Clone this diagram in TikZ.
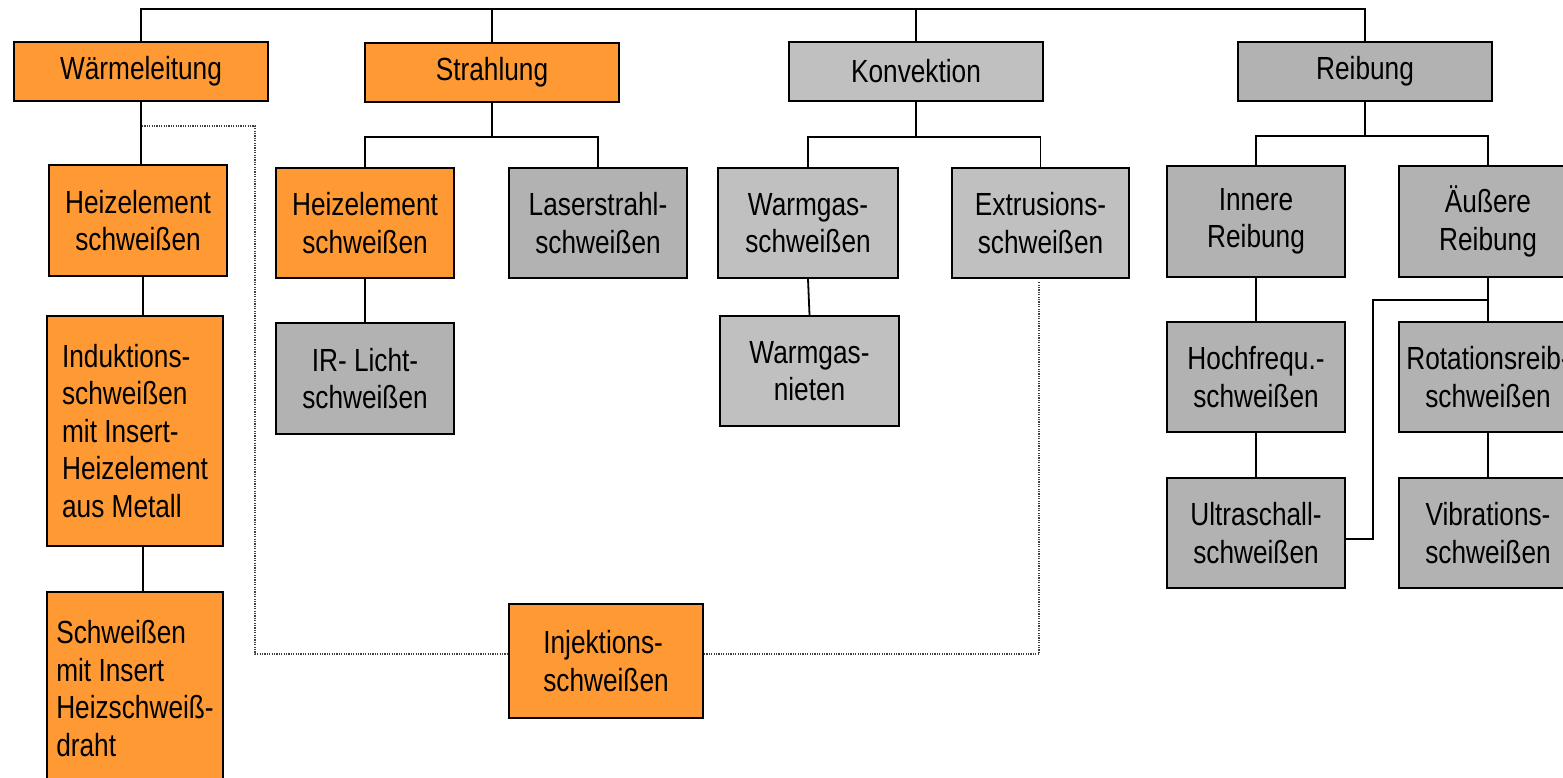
\documentclass[tikz,border=0pt]{standalone}
\usepackage{fontspec}
\setmainfont{Liberation Sans}[FakeStretch=0.82]
\definecolor{orng}{RGB}{255,153,51}
\definecolor{lgray}{RGB}{192,192,192}
\definecolor{dgray}{RGB}{178,178,178}
\tikzset{
  box/.style={draw=black, line width=2pt, inner sep=0pt, align=center,
    font=\fontsize{32}{37.5}\selectfont, text=black},
  orbox/.style={box, fill=orng},
  lgbox/.style={box, fill=lgray},
  dgbox/.style={box, fill=dgray},
  topbox/.style={minimum width=254pt, minimum height=59pt},
  midbox/.style={minimum width=178pt, minimum height=110pt},
  conn/.style={draw=black, line width=1.8pt},
  dotline/.style={draw=black!75, line width=1.2pt, dash pattern=on 1.2pt off 1.2pt}
}
\begin{document}
\begin{tikzpicture}[x=1pt, y=-1pt]
\useasboundingbox (0,0) rectangle (1563,778);
% top level
\node[orbox, topbox] (W) at (141,71.5) {Wärmeleitung};
\node[orbox, topbox] (S) at (492,72.5) {Strahlung};
\node[lgbox, topbox] (K) at (916,71.5) {Konvektion};
\node[dgbox, topbox] (R) at (1365,71.5) {Reibung};
% Wärmeleitung column
\node[orbox, midbox] (H1) at (138,220.5) {Heizelement\\schweißen};
\node[orbox, minimum width=176pt, minimum height=230pt, align=left] (I) at (135,431)
  {Induktions-\\schweißen\\mit Insert-\\Heizelement\\aus Metall};
\node[orbox, minimum width=176pt, minimum height=193pt, align=left] (SW) at (135,688.5)
  {Schweißen\\mit Insert\\Heizschweiß-\\draht};
% Strahlung
\node[orbox, midbox] (H2) at (365,223) {Heizelement\\schweißen};
\node[dgbox, midbox] (L) at (598,223) {Laserstrahl-\\schweißen};
\node[dgbox, midbox, minimum height=111pt] (IR) at (365,378.5) {IR- Licht-\\schweißen};
% Konvektion
\node[lgbox, midbox, minimum width=180pt] (WG) at (808,223) {Warmgas-\\schweißen};
\node[lgbox, midbox, minimum width=177pt] (EX) at (1040.5,223) {Extrusions-\\schweißen};
\node[lgbox, midbox, minimum width=179pt] (WN) at (809.5,371) {Warmgas-\\nieten};
% Reibung
\node[dgbox, midbox, minimum height=111pt] (IN) at (1256,221.5) {Innere\\Reibung};
\node[dgbox, midbox, minimum height=111pt] (AE) at (1488,221.5) {Äußere\\Reibung};
\node[dgbox, midbox] (HF) at (1256,377) {Hochfrequ.-\\schweißen};
\node[dgbox, midbox] (RO) at (1488,377) {Rotationsreib-\\schweißen};
\node[dgbox, midbox] (US) at (1256,533) {Ultraschall-\\schweißen};
\node[dgbox, midbox] (VI) at (1488,533) {Vibrations-\\schweißen};
% Injektion
\node[orbox, minimum width=194pt, minimum height=114pt, align=left] (INJ) at (606,661)
  {Injektions-\\schweißen};
% helper coordinates
\coordinate (bus) at (0,9);
\coordinate (sb) at (0,137);
\coordinate (rb) at (0,136);
\coordinate (j) at (1373,300);
\coordinate (d1) at (255,126);
% top bus
\draw[conn] (W.north) |- (bus -| R.north) -- (R.north);
\draw[conn] (S.north) -- (S.north |- bus);
\draw[conn] (K.north) -- (K.north |- bus);
% Wärmeleitung chain
\draw[conn] (W.south) -- (W.south |- H1.north);
\draw[conn] ([xshift=8pt]I.north) -- ([xshift=8pt]I.north |- H1.south);
\draw[conn] ([xshift=8pt]SW.north) -- ([xshift=8pt]SW.north |- I.south);
% Strahlung branch
\draw[conn] (S.south) -- (sb -| S.south);
\draw[conn] (H2.north) |- (sb -| S.south) -| (L.north);
\draw[conn] (H2.south) -- (IR.north);
% Konvektion branch
\draw[conn] (K.south) -- (sb -| K.south);
\draw[conn] (WG.north) |- (sb -| K.south) -| (EX.north);
\draw[conn] (WG.south) -- (WN.north);
% Reibung branch
\draw[conn] (R.south) -- (rb -| R.south);
\draw[conn] (IN.north) |- (rb -| R.south) -| (AE.north);
\draw[conn] (IN.south) -- (HF.north);
\draw[conn] (HF.south) -- (US.north);
\draw[conn] (AE.south) -- (RO.north);
\draw[conn] (RO.south) -- (VI.north);
\draw[conn] (j -| AE.south) -- (j) |- ([yshift=-6pt]US.east);
% dotted links to Injektionsschweißen
\draw[dotline] ([xshift=1pt]W.south |- d1) -- (d1) |- ([yshift=7pt]INJ.west);
\draw[dotline] ([yshift=7pt]INJ.east) -| ([xshift=-1.5pt,yshift=-3pt]EX.south);
\end{tikzpicture}
\end{document}
